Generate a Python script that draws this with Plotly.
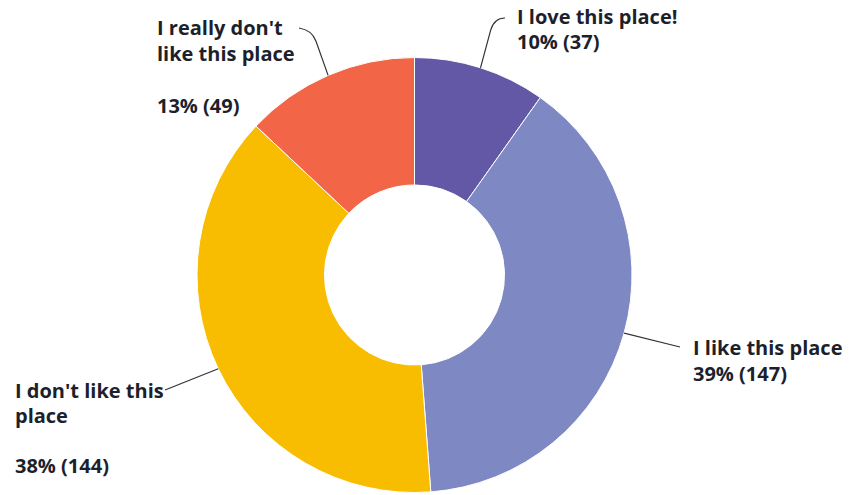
import math
import plotly.graph_objects as go

# Survey responses
labels = ["I love this place!", "I like this place", "I don't like this place", "I really don't like this place"]
counts = [37, 147, 144, 49]
colors = ["#6258A6", "#7E88C3", "#F8BD00", "#F26546"]

# Label text lines (blank string = empty spacer line)
label_lines = [
    ["I love this place!", "{pct}"],
    ["I like this place", "{pct}"],
    ["I don't like this", "place", "", "{pct}"],
    ["I really don't", "like this place", "", "{pct}"],
]

W, H = 850, 495
CX, CY, R = 414.5, 275.0, 217.5
HOLE = 0.414

total = sum(counts)
pcts = [f"{round(100 * c / total)}% ({c})" for c in counts]

fig = go.Figure()

fig.add_trace(go.Pie(
    labels=labels,
    values=counts,
    hole=HOLE,
    sort=False,
    direction="clockwise",
    rotation=0,
    marker=dict(colors=colors, line=dict(color="white", width=1)),
    textinfo="none",
    hoverinfo="label+value+percent",
    showlegend=False,
    domain=dict(x=[(CX - R) / W, (CX + R) / W],
                y=[1 - (CY + R) / H, 1 - (CY - R) / H]),
))

# Label placement: left edge x, first line y, line step, and leader-line end/bend
label_pos = [
    dict(x=515, y=16, step=25, end=(505, 18), bend=(494, 18)),
    dict(x=691, y=347, step=26, end=(680, 347), bend=None),
    dict(x=13, y=390, step=25, end=(165, 390), bend=None),
    dict(x=155, y=27, step=26, end=(299, 28), bend=(312, 30)),
]

# Mid-angles of each slice (clockwise from 12 o'clock) for leader-line anchors
cum = 0.0
for i, c in enumerate(counts):
    mid = (cum + c / 2) / total * 2 * math.pi
    cum += c
    sx = CX + R * math.sin(mid)
    sy = CY - R * math.cos(mid)
    p = label_pos[i]
    ex, ey = p["end"]
    if p["bend"]:
        bx, by = p["bend"]
        path = f"M {sx:.1f},{sy:.1f} L {bx + (sx - bx) * 0.25:.1f},{by + (sy - by) * 0.25:.1f} Q {bx:.1f},{by:.1f} {ex:.1f},{ey:.1f}"
    else:
        path = f"M {sx:.1f},{sy:.1f} L {ex:.1f},{ey:.1f}"
    fig.add_shape(type="path", path=path, xref="x", yref="y",
                  line=dict(color="#333333", width=1.2))

    for k, line in enumerate(label_lines[i]):
        if not line:
            continue
        fig.add_annotation(
            x=p["x"], y=p["y"] + k * p["step"], xref="x", yref="y",
            text=line.format(pct=pcts[i]),
            showarrow=False, xanchor="left", yanchor="middle", align="left",
            font=dict(family="Open Sans", size=20, color="#1d1f2c", weight="bold"),
        )

fig.update_xaxes(range=[0, W], visible=False, fixedrange=True)
fig.update_yaxes(range=[H, 0], visible=False, fixedrange=True)

fig.update_layout(
    width=W, height=H,
    margin=dict(l=0, r=0, t=0, b=0),
    paper_bgcolor="white",
    plot_bgcolor="rgba(0,0,0,0)",
)

fig.write_html("out.html")
